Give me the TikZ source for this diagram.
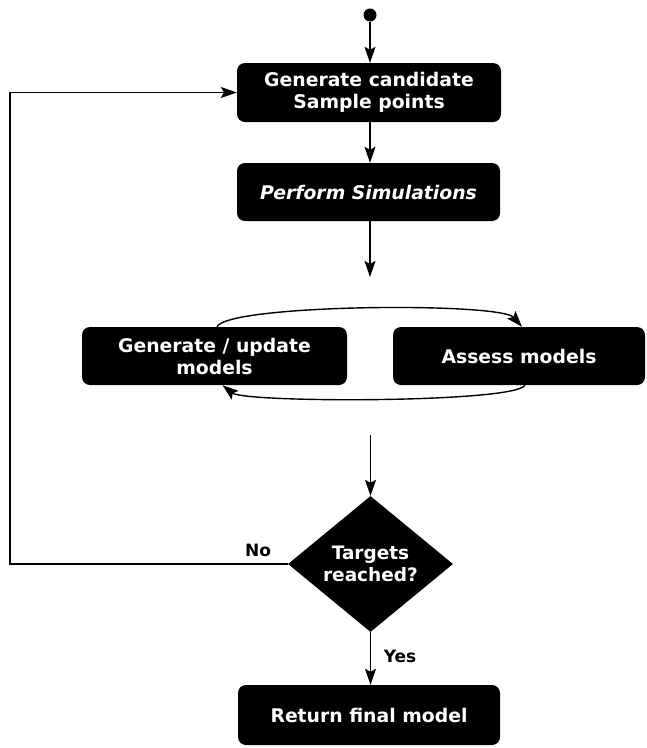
\documentclass[tikz,border=0pt]{standalone}
\usepackage{fontspec}
\setmainfont{DejaVu Sans}
\usetikzlibrary{arrows.meta,shapes.geometric}

\tikzset{
  stepbox/.style={fill=black, rounded corners=8pt, text=white, align=center,
    inner sep=0pt, font=\bfseries\fontsize{18.8}{22}\selectfont},
  decision/.style={diamond, fill=black, text=white, align=center, inner sep=0pt,
    minimum width=165pt, minimum height=136pt, font=\bfseries\fontsize{18.5}{22}\selectfont},
  arr/.style={draw=black, line width=1.4pt, -{Stealth[length=16pt,width=11pt,inset=3pt]}},
  lbl/.style={font=\bfseries\fontsize{17}{20}\selectfont, inner sep=0pt}
}

\begin{document}
\begin{tikzpicture}[x=1pt,y=-1pt]
\useasboundingbox (0,0) rectangle (647,748);

% start marker
\node[circle, fill=black, inner sep=0pt, minimum size=13pt] (start) at (370,15) {};

% process steps
\node[stepbox, minimum width=264pt, minimum height=59pt] (gen) at (369,92.5)
  {Generate candidate\\Sample points};
\node[stepbox, minimum width=263pt, minimum height=58pt] (sim) at (368.5,192)
  {\itshape Perform Simulations};
\node[stepbox, minimum width=265pt, minimum height=58pt] (upd) at (214.5,356)
  {Generate / update\\models};
\node[stepbox, minimum width=252pt, minimum height=58pt] (ass) at (519,356)
  {Assess models};
\node[decision] (dec) at (370.5,564) {Targets\\reached?};
\node[stepbox, minimum width=262pt, minimum height=60pt] (ret) at (369,715)
  {Return final model};

% free ends of the open arrows around the model loop
\coordinate (simend) at (370,277);
\coordinate (decin) at (370.5,435);

% main flow
\draw[arr] (start) -- (start |- gen.north);
\draw[arr] (start |- gen.south) -- (start |- sim.north);
\draw[arr] (start |- sim.south) -- (simend);
\draw[arr] (decin) -- (dec.north);
\draw[arr] (dec.south) -- (dec.south |- ret.north);

% model generation / assessment cycle
\draw[arr] ([xshift=2.5pt]upd.north) .. controls (228,304) and (500,302) .. ([xshift=3pt]ass.north);
\draw[arr] ([xshift=6pt]ass.south) .. controls (515,403) and (245,403) .. ([xshift=8pt]upd.south);

% feedback when targets are not reached
\draw[arr] (dec.west) -- ++(-278,0) |- (gen.west);

% branch labels
\node[lbl] (no) at (258,550) {No};
\node[lbl] (yes) at (400,656) {Yes};
\end{tikzpicture}
\end{document}
